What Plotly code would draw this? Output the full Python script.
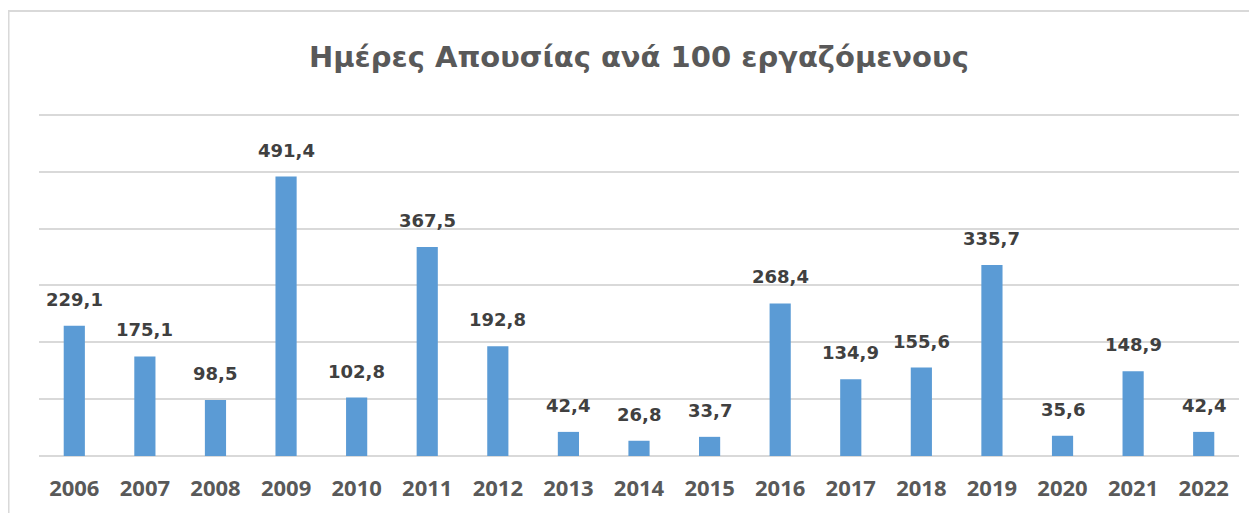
import plotly.graph_objects as go

years = ["2006", "2007", "2008", "2009", "2010", "2011", "2012", "2013", "2014",
         "2015", "2016", "2017", "2018", "2019", "2020", "2021", "2022"]
values = [229.1, 175.1, 98.5, 491.4, 102.8, 367.5, 192.8, 42.4, 26.8,
          33.7, 268.4, 134.9, 155.6, 335.7, 35.6, 148.9, 42.4]
title_text = "Ημέρες Απουσίας ανά 100 εργαζόμενους"

LFONT = "DejaVu Sans"
TFONT = "Open Sans"
fig = go.Figure()
fig.add_trace(go.Bar(x=years, y=values, marker=dict(color="#5B9BD5", line=dict(width=0)),
                     hoverinfo="x+y"))

for i, v in enumerate(values):
    fig.add_annotation(x=i, y=v, text=f"{v:.1f}".replace(".", ","), showarrow=False,
                       yanchor="bottom", yshift=14,
                       font=dict(family=LFONT, size=18, color="#404040", weight="bold"))

fig.add_annotation(xref="paper", yref="paper", x=0.5, y=1.16, yanchor="middle",
                   text=title_text, showarrow=False,
                   font=dict(family=LFONT, size=29, color="#595959", weight="bold"))

fig.add_shape(type="rect", xref="paper", yref="paper", x0=-0.0254, x1=1.1, y0=-0.5, y1=1.2936,
              line=dict(color="#D9D9D9", width=2), fillcolor="rgba(0,0,0,0)", layer="below")

fig.update_layout(
    width=1249, height=505,
    margin=dict(l=31, r=18, t=104, b=57, autoexpand=False),
    paper_bgcolor="white", plot_bgcolor="white",
    bargap=0.7, showlegend=False,
    xaxis=dict(type="category", range=[-0.5, 16.5], showgrid=False, showline=False, ticks="",
               ticklabelstandoff=17, automargin=False,
               tickfont=dict(family=TFONT, size=22, color="#595959", weight="bold")),
    yaxis=dict(range=[0, 605], dtick=100, showgrid=True, gridcolor="#D9D9D9", gridwidth=2,
               zeroline=True, zerolinecolor="#D9D9D9", zerolinewidth=2, automargin=False,
               showticklabels=False, ticks=""),
)
fig.write_html("out.html")
